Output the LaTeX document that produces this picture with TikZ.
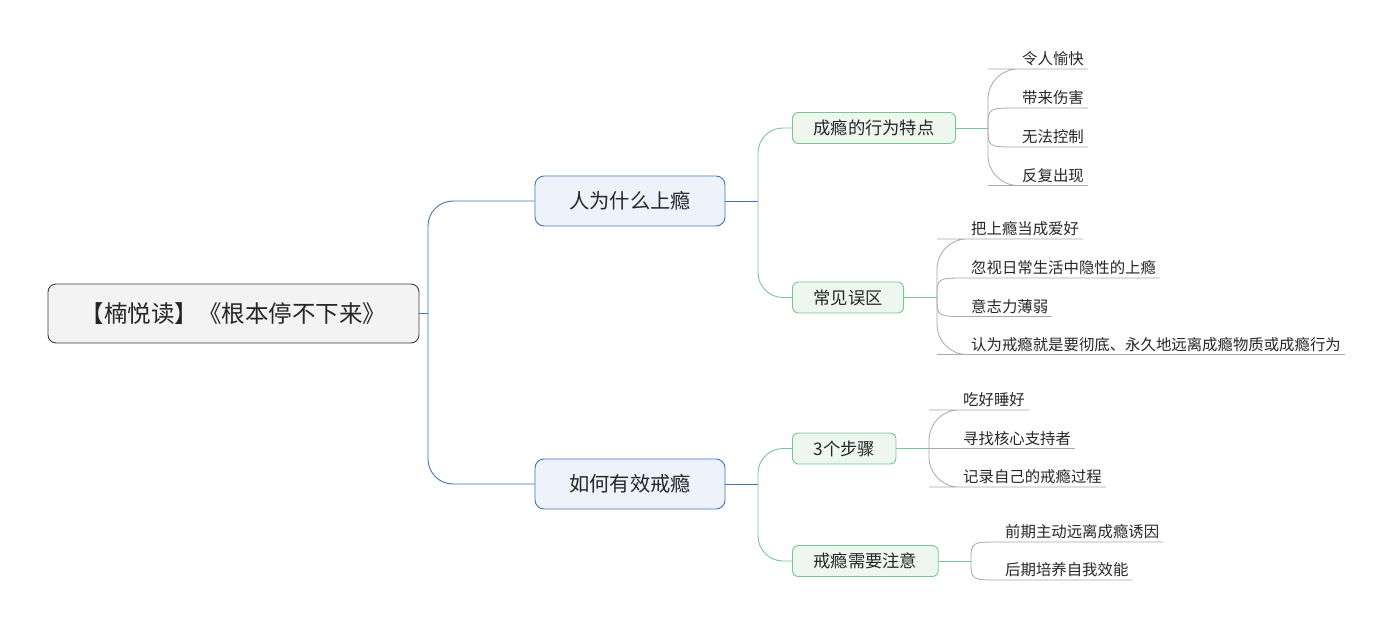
\documentclass[tikz,border=0pt]{standalone}
\usepackage{fontspec}
\setmainfont{Noto Sans CJK SC}
\definecolor{txt}{HTML}{262626}
\definecolor{rootborder}{HTML}{3C3C3C}
\definecolor{rootfill}{HTML}{F3F3F3}
\definecolor{blueline}{HTML}{3F74B8}
\definecolor{bluefill}{HTML}{EEF3FB}
\definecolor{greenline}{HTML}{7AC596}
\definecolor{greenfill}{HTML}{EDF6EF}
\definecolor{greyline}{HTML}{A8A8A8}
\begin{document}
\begin{tikzpicture}[x=1pt,y=-1pt,
  rootbox/.style={draw=rootborder, fill=rootfill, rounded corners=8pt, line width=0.9pt,
    text=txt, font=\fontsize{23.5}{27}\selectfont, minimum width=371pt, minimum height=59pt, inner sep=0pt},
  lonebox/.style={draw=blueline, fill=bluefill, rounded corners=9pt, line width=0.9pt,
    text=txt, font=\fontsize{20.3}{24}\selectfont, minimum width=190pt, minimum height=50pt, inner sep=0pt},
  ltwobox/.style={draw=greenline, fill=greenfill, rounded corners=6pt, line width=0.9pt,
    text=txt, font=\fontsize{17.3}{20}\selectfont, minimum height=31pt, inner xsep=21pt, inner ysep=0pt, anchor=west},
  leaf/.style={anchor=south west, text=txt, font=\fontsize{15.4}{18}\selectfont,
    inner xsep=4pt, inner ysep=0pt, text depth=4pt},
  bl/.style={draw=blueline, line width=0.9pt},
  gr/.style={draw=greenline, line width=0.9pt},
  gy/.style={draw=greyline, line width=0.8pt},
]
\useasboundingbox (0,0) rectangle (1391,628);

% root and level 1
\node[rootbox] (root) at (233.5,313.5) {【楠悦读】《根本停不下来》};
\node[lonebox] (la) at (630,201) {人为什么上瘾};
\node[lonebox] (lb) at (630,484) {如何有效戒瘾};

% level 2
\node[ltwobox] (ta) at (792,128) {成瘾的行为特点};
\node[ltwobox] (tb) at (792,297.5) {常见误区};
\node[ltwobox] (tc) at (792,448.5) {3个步骤};
\node[ltwobox] (td) at (792,561) {戒瘾需要注意};

% junctions
\coordinate (j0) at (428,313.5);
\coordinate (j1a) at (758,201);
\coordinate (j1b) at (758,484);
\coordinate (ja) at (988,128);
\coordinate (jb) at (937,297.5);
\coordinate (jc) at (929,448.5);
\coordinate (jd) at (971,561);

% leaves
\node[leaf] (a1) at (1018,69) {令人愉快};
\node[leaf] (a2) at (1018,108) {带来伤害};
\node[leaf] (a3) at (1018,147) {无法控制};
\node[leaf] (a4) at (1018,185.5) {反复出现};

\node[leaf] (b1) at (967,239) {把上瘾当成爱好};
\node[leaf] (b2) at (967,278) {忽视日常生活中隐性的上瘾};
\node[leaf] (b3) at (967,316.5) {意志力薄弱};
\node[leaf] (b4) at (967,354.5) {认为戒瘾就是要彻底、永久地远离成瘾物质或成瘾行为};

\node[leaf] (c1) at (959,410) {吃好睡好};
\node[leaf] (c2) at (959,448.5) {寻找核心支持者};
\node[leaf] (c3) at (959,487) {记录自己的戒瘾过程};

\node[leaf] (d1) at (1001,542) {前期主动远离成瘾诱因};
\node[leaf] (d2) at (1001,580) {后期培养自我效能};

% root connectors
\draw[bl] (root.east) -- (j0);
\draw[bl, rounded corners=25pt] (j0) |- (la.west);
\draw[bl, rounded corners=25pt] (j0) |- (lb.west);

% level 1 -> level 2
\draw[bl] (la.east) -- (j1a);
\draw[gr, rounded corners=25pt] (j1a) |- (ta.west);
\draw[gr, rounded corners=25pt] (j1a) |- (tb.west);
\draw[bl] (lb.east) -- (j1b);
\draw[gr, rounded corners=25pt] (j1b) |- (tc.west);
\draw[gr, rounded corners=25pt] (j1b) |- (td.west);

% level 2 -> junctions
\draw[gr] (ta.east) -- (ja);
\draw[gr] (tb.east) -- (jb);
\draw[gr] (tc.east) -- (jc);
\draw[gr] (td.east) -- (jd);

% leaves connectors
\draw[gy, rounded corners=30pt] (ja) |- (a1.south west) -- (a1.south east);
\draw[gy] (ja) .. controls (ja |- a2.south west) .. (a2.south west) -- (a2.south east);
\draw[gy] (ja) .. controls (ja |- a3.south west) .. (a3.south west) -- (a3.south east);
\draw[gy, rounded corners=30pt] (ja) |- (a4.south west) -- (a4.south east);

\draw[gy, rounded corners=30pt] (jb) |- (b1.south west) -- (b1.south east);
\draw[gy] (jb) .. controls (jb |- b2.south west) .. (b2.south west) -- (b2.south east);
\draw[gy] (jb) .. controls (jb |- b3.south west) .. (b3.south west) -- (b3.south east);
\draw[gy, rounded corners=30pt] (jb) |- (b4.south west) -- (b4.south east);

\draw[gy, rounded corners=30pt] (jc) |- (c1.south west) -- (c1.south east);
\draw[gy] (jc) -- (c2.south east);
\draw[gy, rounded corners=30pt] (jc) |- (c3.south west) -- (c3.south east);

\draw[gy] (jd) .. controls (jd |- d1.south west) .. (d1.south west) -- (d1.south east);
\draw[gy] (jd) .. controls (jd |- d2.south west) .. (d2.south west) -- (d2.south east);
\end{tikzpicture}
\end{document}
